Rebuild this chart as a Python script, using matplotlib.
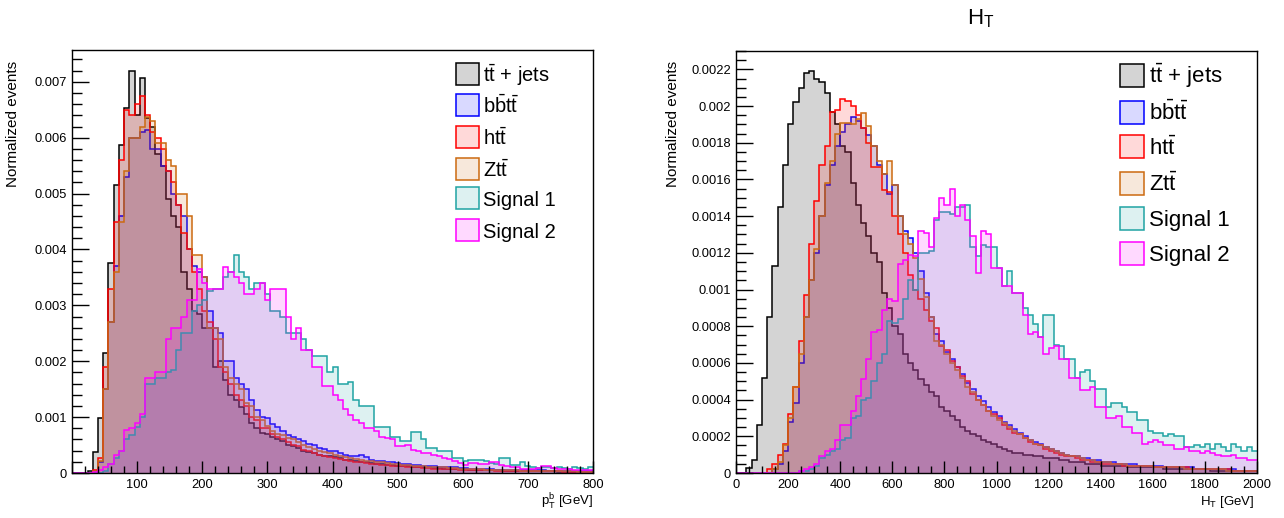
import matplotlib
matplotlib.use('Agg')
import matplotlib.pyplot as plt
import numpy as np
from matplotlib.ticker import MultipleLocator, FuncFormatter
from matplotlib.patches import Rectangle
from matplotlib.colors import to_rgba

# ---------------- data (normalized events per bin) ----------------
labels = [r'$\mathrm{t\bar{t}}$ + jets', r'$\mathrm{b\bar{b}t\bar{t}}$', r'$\mathrm{ht\bar{t}}$',
          r'$\mathrm{Zt\bar{t}}$', 'Signal 1', 'Signal 2']

# left panel: p_T^b, 100 bins from 0 to 800 GeV
ptb_range = (0, 800)
ptb_ttjets = [0, 0, 0, 0.00004, 0.00038, 0.00098, 0.00214, 0.00376, 0.00515, 0.00587,
 0.00653, 0.0072, 0.0064, 0.00706, 0.00635, 0.0062, 0.0057, 0.0055, 0.0049, 0.0046,
 0.0044, 0.0036, 0.0033, 0.0029, 0.00285, 0.0026, 0.0026, 0.0019, 0.0020, 0.00167,
 0.0014, 0.0013, 0.00118, 0.00105, 0.0009, 0.0008, 0.00072, 0.0007, 0.00064, 0.0006,
 0.00057, 0.0005, 0.00048, 0.00045, 0.0004, 0.00038, 0.00035, 0.00033, 0.00031, 0.0003,
 0.00028, 0.00026, 0.00024, 0.00023, 0.00022, 0.0002, 0.00019, 0.00018, 0.00017, 0.00016,
 0.00015, 0.00014, 0.00013, 0.00012, 0.00012, 0.00011, 0.00011, 0.0001, 0.0001, 0.00009,
 0.00009, 0.00008, 0.00008, 0.00008, 0.00007, 0.00007, 0.00006, 0.00006, 0.00006, 0.00005,
 0.00005, 0.00005, 0.00005, 0.00004, 0.00004, 0.00004, 0.00004, 0.00003, 0.00003, 0.00003,
 0.00003, 0.00003, 0.00003, 0.00002, 0.00002, 0.00002, 0.00002, 0.00002, 0.00002, 0.00002]
ptb_bbtt = [0, 0, 0, 0, 0.00004, 0.0002, 0.0015, 0.0027, 0.0037, 0.0046,
 0.0053, 0.006, 0.006, 0.0061, 0.00613, 0.0058, 0.0058, 0.0055, 0.0054, 0.005,
 0.0048, 0.0046, 0.004, 0.0037, 0.0036, 0.0035, 0.0029, 0.0026, 0.0025, 0.002,
 0.002, 0.0017, 0.0016, 0.0015, 0.0013, 0.00113, 0.001, 0.00098, 0.00088, 0.00083,
 0.00075, 0.00068, 0.00065, 0.0006, 0.00057, 0.00052, 0.0005, 0.00045, 0.00043, 0.0004,
 0.00039, 0.00035, 0.00033, 0.0003, 0.0003, 0.00033, 0.00028, 0.00024, 0.00022, 0.00021,
 0.0002, 0.00019, 0.00018, 0.00017, 0.00016, 0.00015, 0.00014, 0.00013, 0.00013, 0.00012,
 0.00011, 0.00011, 0.0001, 0.0001, 0.00009, 0.00009, 0.00008, 0.00008, 0.00008, 0.00007,
 0.00007, 0.00006, 0.00006, 0.00006, 0.00006, 0.00006, 0.00005, 0.00005, 0.00005, 0.00005,
 0.00005, 0.00004, 0.00004, 0.00004, 0.00004, 0.00004, 0.00003, 0.00003, 0.00003, 0.00003]
ptb_htt = [0, 0, 0, 0, 0.00005, 0.00026, 0.0019, 0.0033, 0.0045, 0.0056,
 0.0065, 0.0064, 0.0066, 0.00674, 0.0064, 0.0061, 0.006, 0.0058, 0.0054, 0.0052,
 0.0048, 0.0043, 0.004, 0.0036, 0.0033, 0.0029, 0.0027, 0.0024, 0.0019, 0.0018,
 0.0016, 0.0014, 0.0013, 0.0012, 0.001, 0.00095, 0.0008, 0.0008, 0.0007, 0.00065,
 0.0006, 0.00055, 0.0005, 0.00048, 0.00042, 0.0004, 0.00036, 0.00033, 0.0003, 0.00028,
 0.00026, 0.00025, 0.00023, 0.00021, 0.0002, 0.00019, 0.00018, 0.00017, 0.00016, 0.00015,
 0.00014, 0.00013, 0.00013, 0.00012, 0.00011, 0.0001, 0.0001, 0.00009, 0.00009, 0.00008,
 0.00008, 0.00007, 0.00007, 0.00007, 0.00006, 0.00006, 0.00006, 0.00005, 0.00005, 0.00005,
 0.00005, 0.00004, 0.00004, 0.00004, 0.00004, 0.00004, 0.00004, 0.00003, 0.00003, 0.00003,
 0.00003, 0.00003, 0.00003, 0.00003, 0.00002, 0.00002, 0.00002, 0.00002, 0.00002, 0.00002]
ptb_ztt = [0, 0, 0, 0, 0.00004, 0.00022, 0.0015, 0.0027, 0.0036, 0.0045,
 0.0054, 0.006, 0.006, 0.0062, 0.00637, 0.0063, 0.0059, 0.0059, 0.0056, 0.0055,
 0.005, 0.005, 0.0046, 0.0039, 0.0039, 0.0035, 0.0026, 0.0026, 0.0024, 0.0019,
 0.0017, 0.0016, 0.0015, 0.00125, 0.0012, 0.001, 0.00095, 0.00085, 0.00075, 0.0007,
 0.00068, 0.00063, 0.0006, 0.00055, 0.0005, 0.00046, 0.00043, 0.0004, 0.00037, 0.00035,
 0.00032, 0.0003, 0.00028, 0.00027, 0.00025, 0.00024, 0.00022, 0.00021, 0.0002, 0.00019,
 0.00018, 0.00017, 0.00016, 0.00015, 0.00014, 0.00013, 0.00012, 0.00012, 0.00011, 0.00011,
 0.0001, 0.0001, 0.00009, 0.00009, 0.00008, 0.00008, 0.00007, 0.00007, 0.00007, 0.00006,
 0.00006, 0.00006, 0.00005, 0.00005, 0.00005, 0.00005, 0.00004, 0.00004, 0.00004, 0.00004,
 0.00004, 0.00003, 0.00003, 0.00003, 0.00003, 0.00003, 0.00003, 0.00002, 0.00002, 0.00002]
ptb_sig1 = [0, 0, 0, 0, 0, 0, 0.00004, 0.00017, 0.00027, 0.0004,
 0.0006, 0.00068, 0.00083, 0.001, 0.0016, 0.0016, 0.0017, 0.0017, 0.0018, 0.00185,
 0.0022, 0.0025, 0.0025, 0.0029, 0.003, 0.0031, 0.00325, 0.0033, 0.0033, 0.0035,
 0.0036, 0.0039, 0.0036, 0.0035, 0.0033, 0.0034, 0.0034, 0.0032, 0.0029, 0.0029,
 0.0028, 0.0025, 0.0025, 0.0025, 0.0024, 0.0022, 0.0021, 0.0021, 0.0021, 0.0018,
 0.0019, 0.0016, 0.0016, 0.00162, 0.0013, 0.0012, 0.0012, 0.0012, 0.00083, 0.00083,
 0.00083, 0.00065, 0.00065, 0.00057, 0.00057, 0.00074, 0.00074, 0.0006, 0.00045, 0.00045,
 0.0004, 0.0004, 0.0004, 0.00027, 0.00027, 0.00022, 0.00024, 0.00024, 0.00024, 0.00022,
 0.00018, 0.00017, 0.00027, 0.00027, 0.00015, 0.00015, 0.0002, 0.00012, 0.0001, 0.00009,
 0.0001, 0.0001, 0.00009, 0.0001, 0.00009, 0.00008, 0.0001, 0.00009, 0.00008, 0.0001]
ptb_sig2 = [0, 0, 0, 0, 0.00002, 0.00005, 0.0001, 0.00017, 0.00032, 0.0004,
 0.00077, 0.0008, 0.0009, 0.00105, 0.0017, 0.0017, 0.0018, 0.0018, 0.0024, 0.0026,
 0.0026, 0.0028, 0.0031, 0.0031, 0.00365, 0.0034, 0.0033, 0.0033, 0.0033, 0.00368,
 0.0036, 0.0035, 0.0034, 0.0032, 0.0032, 0.0033, 0.0034, 0.0031, 0.0033, 0.0033,
 0.0033, 0.0028, 0.0024, 0.0026, 0.0022, 0.0022, 0.0019, 0.0019, 0.00155, 0.00155,
 0.0014, 0.0013, 0.00115, 0.00104, 0.00095, 0.0009, 0.0008, 0.0008, 0.00075, 0.00065,
 0.00063, 0.0006, 0.00048, 0.00048, 0.0005, 0.00042, 0.0004, 0.00036, 0.00035, 0.00033,
 0.0003, 0.00027, 0.00025, 0.00022, 0.00018, 0.00015, 0.00018, 0.00018, 0.00017, 0.00017,
 0.0002, 0.0002, 0.00015, 0.00012, 0.0001, 0.0001, 0.00008, 0.00008, 0.00008, 0.00009,
 0.00012, 0.00012, 0.00009, 0.00008, 0.00008, 0.00007, 0.00006, 0.00006, 0.00005, 0.00006]

# right panel: H_T, 100 bins from 0 to 2000 GeV
ht_range = (0, 2000)
ht_ttjets = [0, 0, 0.000025, 0.00007, 0.00026, 0.00052, 0.00085, 0.00113, 0.00145, 0.00168,
 0.0019, 0.00202, 0.0021, 0.00218, 0.00219, 0.00215, 0.00213, 0.00207, 0.00197, 0.0019,
 0.00178, 0.00175, 0.00158, 0.00146, 0.00136, 0.00129, 0.0012, 0.00115, 0.00098, 0.0009,
 0.0008, 0.00076, 0.00065, 0.0006, 0.00056, 0.00051, 0.00048, 0.00044, 0.00042, 0.00036,
 0.00034, 0.00031, 0.00029, 0.00025, 0.00023, 0.00021, 0.0002, 0.00018, 0.00017, 0.00016,
 0.00014, 0.00013, 0.00012, 0.00011, 0.00011, 0.0001, 0.0001, 0.00009, 0.00009, 0.00008,
 0.00008, 0.00008, 0.00007, 0.00007, 0.00006, 0.00006, 0.00006, 0.00005, 0.00005, 0.00005,
 0.00004, 0.00004, 0.00004, 0.00004, 0.00004, 0.00003, 0.00003, 0.00003, 0.00003, 0.00003,
 0.00003, 0.00003, 0.00002, 0.00002, 0.00002, 0.00002, 0.00002, 0.00002, 0.00002, 0.00002,
 0.00002, 0.00001, 0.00001, 0.00001, 0.00001, 0.00001, 0.00001, 0.00001, 0.00001, 0.00001]
ht_bbtt = [0, 0, 0, 0, 0, 0, 0, 0.00002, 0.00005, 0.00012,
 0.00028, 0.00038, 0.0006, 0.00085, 0.00105, 0.0012, 0.0014, 0.00157, 0.00168, 0.00178,
 0.00186, 0.0019, 0.00194, 0.00192, 0.00188, 0.00184, 0.00178, 0.00168, 0.00163, 0.00152,
 0.00157, 0.0014, 0.00132, 0.00128, 0.0012, 0.0011, 0.00098, 0.00085, 0.00076, 0.00072,
 0.00066, 0.00062, 0.00058, 0.00054, 0.00049, 0.00046, 0.00042, 0.00039, 0.00036, 0.00033,
 0.00031, 0.00028, 0.00026, 0.00024, 0.00022, 0.0002, 0.00018, 0.00017, 0.00016, 0.00014,
 0.00013, 0.00012, 0.00011, 0.0001, 0.00009, 0.00009, 0.00008, 0.00008, 0.00007, 0.00007,
 0.00006, 0.00006, 0.00006, 0.00005, 0.00005, 0.00005, 0.00005, 0.00004, 0.00004, 0.00004,
 0.00004, 0.00004, 0.00003, 0.00003, 0.00003, 0.00003, 0.00003, 0.00003, 0.00002, 0.00002,
 0.00002, 0.00002, 0.00002, 0.00002, 0.00002, 0.00002, 0.00001, 0.00001, 0.00001, 0.00001]
ht_htt = [0, 0, 0, 0, 0, 0, 0.00002, 0.00005, 0.0001, 0.00016,
 0.00032, 0.00047, 0.00072, 0.00097, 0.00125, 0.00148, 0.00168, 0.00178, 0.00197, 0.00198,
 0.00204, 0.00203, 0.002, 0.00195, 0.00188, 0.0018, 0.00167, 0.00167, 0.00154, 0.00153,
 0.0014, 0.0013, 0.0012, 0.00108, 0.001, 0.00095, 0.00089, 0.00083, 0.00079, 0.00069,
 0.00067, 0.00061, 0.00058, 0.00053, 0.0005, 0.00043, 0.0004, 0.00037, 0.00034, 0.00032,
 0.0003, 0.00026, 0.00024, 0.00022, 0.00021, 0.00019, 0.00017, 0.00016, 0.00015, 0.00013,
 0.00012, 0.00011, 0.0001, 0.00009, 0.00009, 0.00008, 0.00007, 0.00007, 0.00006, 0.00006,
 0.00005, 0.00005, 0.00005, 0.00005, 0.00004, 0.00004, 0.00004, 0.00004, 0.00004, 0.00004,
 0.00003, 0.00003, 0.00003, 0.00003, 0.00003, 0.00003, 0.00003, 0.00002, 0.00002, 0.00002,
 0.00002, 0.00002, 0.00002, 0.00002, 0.00002, 0.00001, 0.00001, 0.00001, 0.00001, 0.00001]
ht_ztt = [0, 0, 0, 0, 0, 0, 0, 0.00002, 0.00006, 0.00015,
 0.0003, 0.00047, 0.00065, 0.00085, 0.00105, 0.00122, 0.0014, 0.00158, 0.0017, 0.00185,
 0.00191, 0.00191, 0.0019, 0.00193, 0.00196, 0.00189, 0.00178, 0.0017, 0.00163, 0.0017,
 0.00157, 0.0014, 0.0013, 0.00125, 0.00117, 0.00106, 0.00096, 0.00085, 0.00072, 0.0007,
 0.00065, 0.0006, 0.00056, 0.00052, 0.00047, 0.00044, 0.0004, 0.00037, 0.00034, 0.00031,
 0.00029, 0.00027, 0.00025, 0.00023, 0.00021, 0.00019, 0.00018, 0.00016, 0.00015, 0.00014,
 0.00013, 0.00012, 0.00011, 0.0001, 0.00009, 0.00009, 0.00008, 0.00007, 0.00007, 0.00006,
 0.00006, 0.00006, 0.00005, 0.00005, 0.00005, 0.00004, 0.00004, 0.00004, 0.00004, 0.00004,
 0.00003, 0.00003, 0.00003, 0.00003, 0.00003, 0.00003, 0.00002, 0.00002, 0.00002, 0.00002,
 0.00002, 0.00002, 0.00002, 0.00002, 0.00001, 0.00001, 0.00001, 0.00001, 0.00001, 0.00001]
ht_sig1 = [0, 0, 0, 0, 0, 0, 0, 0, 0, 0,
 0, 0, 0.00001, 0.00001, 0.00002, 0.00004, 0.00008, 0.0001, 0.00012, 0.00013,
 0.00018, 0.00019, 0.0003, 0.00031, 0.0004, 0.00041, 0.0005, 0.0006, 0.00065, 0.00083,
 0.00082, 0.00084, 0.00095, 0.00105, 0.001, 0.0012, 0.0012, 0.00121, 0.00138, 0.00142,
 0.00142, 0.00141, 0.00145, 0.00145, 0.00146, 0.00123, 0.00118, 0.00124, 0.00123, 0.00123,
 0.00112, 0.00102, 0.0011, 0.00098, 0.00098, 0.0009, 0.00086, 0.00081, 0.00074, 0.00086,
 0.00086, 0.0007, 0.00069, 0.00062, 0.00062, 0.00052, 0.00055, 0.00056, 0.0005, 0.00046,
 0.00046, 0.00036, 0.00038, 0.00038, 0.00036, 0.00033, 0.00033, 0.00029, 0.00029, 0.00023,
 0.00022, 0.00022, 0.0002, 0.00021, 0.0002, 0.0002, 0.00014, 0.00014, 0.00015, 0.00014,
 0.00016, 0.00013, 0.00016, 0.00014, 0.00012, 0.00016, 0.00014, 0.00012, 0.00014, 0.00012]
ht_sig2 = [0, 0, 0, 0, 0, 0, 0, 0, 0, 0,
 0, 0, 0.00001, 0.00002, 0.00003, 0.00005, 0.00009, 0.00012, 0.00013, 0.00018,
 0.00026, 0.00026, 0.00034, 0.00042, 0.00051, 0.00062, 0.00077, 0.00078, 0.00089, 0.00095,
 0.00094, 0.00114, 0.00116, 0.00119, 0.00118, 0.00132, 0.00131, 0.00123, 0.00139, 0.0015,
 0.00146, 0.00155, 0.0014, 0.00146, 0.00138, 0.00129, 0.00109, 0.00132, 0.0013, 0.00112,
 0.00112, 0.00102, 0.00102, 0.00098, 0.00098, 0.00086, 0.00076, 0.00077, 0.00074, 0.00065,
 0.00068, 0.00069, 0.00062, 0.00062, 0.00052, 0.00052, 0.00045, 0.00045, 0.00047, 0.00036,
 0.00036, 0.0003, 0.0003, 0.00031, 0.00025, 0.00025, 0.00022, 0.00022, 0.00016, 0.00017,
 0.00018, 0.00017, 0.00015, 0.00015, 0.00013, 0.00013, 0.00014, 0.00012, 0.00012, 0.00011,
 0.00012, 0.00011, 0.0001, 0.00009, 0.00009, 0.0001, 0.00008, 0.00008, 0.00007, 0.00007]

# ---------------- style ----------------
colors = ['#000000', '#0000ff', '#ff0000', '#cc6a10', '#1fa3a3', '#ff00ff']
alphas = [0.17, 0.15, 0.15, 0.15, 0.15, 0.15]

plt.rcParams['font.family'] = ['Liberation Sans', 'DejaVu Sans']
plt.rcParams['mathtext.fontset'] = 'custom'
plt.rcParams['mathtext.rm'] = 'Liberation Sans'
plt.rcParams['mathtext.it'] = 'Liberation Sans'
plt.rcParams['mathtext.bf'] = 'Liberation Sans:bold'

W, H = 1284, 518
fig = plt.figure(figsize=(W / 100, H / 100), dpi=100)


def axes_px(x0, y0, x1, y1):
    return fig.add_axes([x0 / W, 1 - y1 / H, (x1 - x0) / W, (y1 - y0) / H])


def draw_hists(ax, rng, series):
    n = len(series[0])
    edges = np.linspace(rng[0], rng[1], n + 1)
    for vals, c, a in zip(series, colors, alphas):
        ax.stairs(vals, edges, fill=True, color=c, alpha=a, linewidth=0)
        ax.stairs(vals, edges, color=c, linewidth=1.1, baseline=None)


def style_axis(ax, xmaj, xmin, ymaj, ymin, hide_x0):
    ax.xaxis.set_major_locator(MultipleLocator(xmaj))
    ax.xaxis.set_minor_locator(MultipleLocator(xmin))
    ax.yaxis.set_major_locator(MultipleLocator(ymaj))
    ax.yaxis.set_minor_locator(MultipleLocator(ymin))
    ax.xaxis.set_major_formatter(FuncFormatter(
        lambda v, p: '' if (hide_x0 and abs(v) < 1e-9) else '%d' % round(v)))
    ax.yaxis.set_major_formatter(FuncFormatter(
        lambda v, p: '0' if abs(v) < 1e-12 else ('%.5f' % v).rstrip('0')))
    ax.tick_params(axis='both', which='both', direction='in', top=False, right=False,
                   labelsize=9.3, width=1.0, colors='black')
    ax.tick_params(axis='y', which='major', length=12, pad=3.5)
    ax.tick_params(axis='y', which='minor', length=7)
    ax.tick_params(axis='x', which='major', length=9, pad=4.5)
    ax.tick_params(axis='x', which='minor', length=5)
    for s in ax.spines.values():
        s.set_linewidth(1.0)
        s.set_color('black')


def legend(ax, x0, x1, xt, ys, h, fs):
    for lab, c, a, y in zip(labels, colors, alphas, ys):
        ax.add_patch(Rectangle((x0, y - h / 2), x1 - x0, h, transform=ax.transAxes,
                               facecolor=to_rgba(c, a), edgecolor=c, linewidth=1.1,
                               clip_on=False, zorder=5))
        ax.text(xt, y - 0.019, lab, transform=ax.transAxes, ha='left', va='baseline',
                fontsize=fs, color='black', zorder=6)


# ---------------- left panel ----------------
axL = axes_px(72, 50, 593, 473)
draw_hists(axL, ptb_range, [ptb_ttjets, ptb_bbtt, ptb_htt, ptb_ztt, ptb_sig1, ptb_sig2])
axL.set_xlim(*ptb_range)
axL.set_ylim(0, 0.00757)
style_axis(axL, 100, 20, 0.001, 0.0002, True)
legend(axL, 0.737, 0.781, 0.789, [0.943, 0.870, 0.794, 0.719, 0.650, 0.574], 0.052, 14.5)
fig.text(13 / W, 1 - 61 / H, 'Normalized events', rotation=90, ha='center', va='top',
         fontsize=11)
fig.text(593 / W, 1 - 506 / H, r'p$_\mathrm{T}^\mathrm{b}$ [GeV]', ha='right', va='baseline',
         fontsize=9.5)

# ---------------- right panel ----------------
axR = axes_px(736, 51, 1257, 473)
draw_hists(axR, ht_range, [ht_ttjets, ht_bbtt, ht_htt, ht_ztt, ht_sig1, ht_sig2])
axR.set_xlim(*ht_range)
axR.set_ylim(0, 0.0023)
style_axis(axR, 200, 50, 0.0002, 0.00005, False)
legend(axR, 0.737, 0.783, 0.793, [0.943, 0.855, 0.773, 0.687, 0.604, 0.521], 0.0545, 16)
fig.text(673 / W, 1 - 61 / H, 'Normalized events', rotation=90, ha='center', va='top',
         fontsize=11)
fig.text(1254 / W, 1 - 505 / H, r'H$_\mathrm{T}$ [GeV]', ha='right', va='baseline',
         fontsize=9.5)
fig.text(981 / W, 1 - 24 / H, r'H$_\mathrm{T}$', ha='center', va='baseline', fontsize=16)

fig.savefig('out.png', dpi=100)
